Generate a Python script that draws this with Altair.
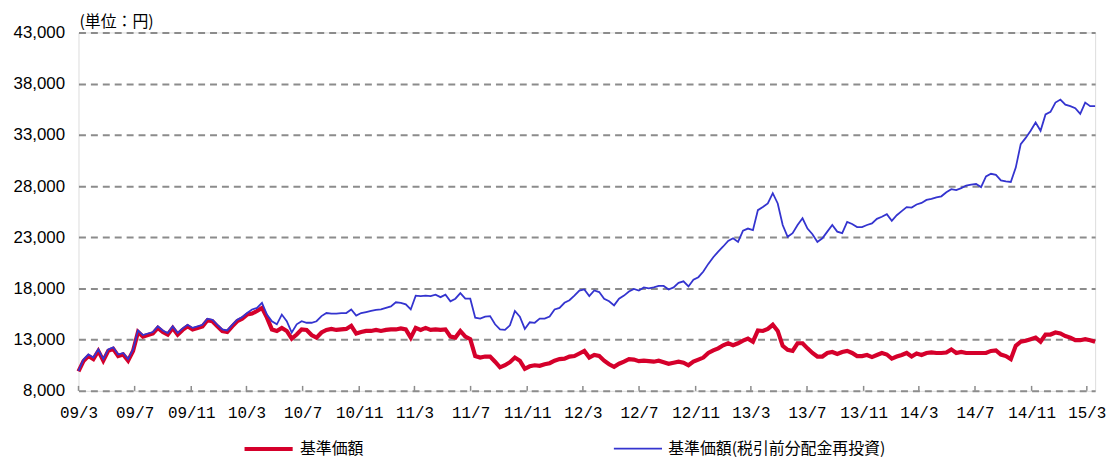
import altair as alt
import pandas as pd

# ---- data ----
START = "2009-03-01"
END = "2015-03-19"

UNIT_LABEL = "(単位：円)"
SERIES = ["基準価額", "基準価額(税引前分配金再投資)"]
COLORS = ["#D5002B", "#3434CF"]
WIDTHS = [4.2, 1.8]

RED = [
    9900, 10900, 11400, 11100, 11900, 10950, 11900, 12100, 11400, 11550,
    10950, 11900, 13750, 13300, 13450, 13600, 14150, 13750, 13500, 14150,
    13500, 13950, 14300, 14000, 14150, 14300, 14900, 14800, 14300, 13850,
    13750, 14300, 14800, 15050, 15450,
    15550, 15800, 16100, 15150, 14000, 13850, 14150, 13850, 13100, 13500,
    14000, 13950, 13450, 13200, 13700, 13950,
    14050, 13950, 14000, 14050, 14350, 13600, 13750, 13850, 13850, 13950,
    13850, 13950, 14000, 14000, 14100, 14000, 13200, 14150, 13950, 14150,
    13950, 14000, 13950, 14000, 13300, 13200, 13850, 13300, 13050, 11400,
    11250, 11350, 11350, 10850, 10300, 10500, 10800, 11250, 10950, 10150,
    10400, 10500, 10450, 10600, 10700, 10950, 11100, 11150, 11350, 11400,
    11650, 11900,
    11250, 11500, 11400, 10950, 10600, 10350, 10650, 10850, 11100, 11050,
    10900, 10950, 10900, 10850, 10950, 10800, 10650, 10750, 10850, 10750,
    10500, 10850, 11050, 11250, 11700, 11950, 12150, 12450, 12650, 12450,
    12650, 12900, 13100, 12800, 13900, 13850, 14050, 14450, 13850,
    12400, 12000, 11900, 12650, 12650, 12150, 11700, 11350, 11350, 11700,
    11800, 11600, 11800, 11900, 11700, 11400, 11400, 11500, 11300, 11500,
    11700, 11550, 11150, 11350, 11500, 11700, 11350, 11650, 11500, 11700,
    11750, 11700, 11700, 11750, 12050, 11700, 11800, 11700, 11700, 11700,
    11700, 11700, 11900, 11950, 11550, 11400, 11100, 12400, 12800, 12900,
    13050, 13200, 12800, 13500, 13500, 13700, 13600, 13350, 13200, 12950,
    12950, 13050, 12950, 12800,
]

BLUE = [
    9950, 11050, 11550, 11250, 12050, 11100, 12050, 12250, 11550, 11700,
    11100, 12050, 13900, 13450, 13600, 13750, 14300, 13900, 13650, 14300,
    13650, 14100, 14450, 14150, 14300, 14450, 15050, 14950, 14450, 14000,
    13900, 14450, 14950, 15200, 15600,
    15950, 16100, 16600, 15450, 14800, 14500, 15450, 14800, 13700, 14500,
    14800, 14650, 14650, 14800, 15300, 15600,
    15550, 15550, 15600, 15600, 15950, 15350, 15600, 15700, 15800, 15900,
    15950, 16100, 16250, 16650, 16600, 16450, 15950, 17300, 17250, 17300,
    17250, 17400, 17150, 17400, 16750, 17000, 17550, 17000, 17000, 15150,
    15050, 15250, 15300, 14500, 14000, 13950, 14400, 15800, 15250, 14050,
    14700, 14650, 15050, 15050, 15250, 15950, 16100, 16600, 16850, 17300,
    17800, 17900,
    17250, 17800, 17650, 17000, 16750, 16350, 17000, 17300, 17700, 17950,
    17800, 18100, 18000, 18100, 18250, 18250, 17900, 18100, 18550, 18700,
    18200, 18850, 19100, 19650, 20400, 21050, 21600, 22100, 22650, 22900,
    22550, 23650, 23850, 23700, 25650, 25950, 26300, 27300, 26300,
    24200, 23050, 23400, 24200, 24850, 23850, 23300, 22550, 22900, 23550,
    24200, 23550, 23400, 24500, 24300, 24000, 24000, 24200, 24350, 24800,
    25000, 25250, 24600, 25150, 25550, 25950, 25900, 26200, 26350, 26650,
    26750, 26900, 27000, 27400, 27700, 27600, 27800, 28050, 28150, 28200,
    27900, 28950, 29200, 29100, 28550, 28450, 28400, 29800, 32100, 32700,
    33400, 34200, 33400, 35000, 35250, 36150, 36450, 35950, 35800, 35600,
    35050, 36150, 35800, 35800,
]

X_TICKS = [
    (2009, 3), (2009, 7), (2009, 11), (2010, 3), (2010, 7), (2010, 11),
    (2011, 3), (2011, 7), (2011, 11), (2012, 3), (2012, 7), (2012, 11),
    (2013, 3), (2013, 7), (2013, 11), (2014, 3), (2014, 7), (2014, 11),
    (2015, 3),
]
Y_TICKS = [8000, 13000, 18000, 23000, 28000, 33000, 38000, 43000]

# ---- build tables ----
dates = pd.date_range(START, END, periods=len(RED))
df = pd.concat([
    pd.DataFrame({"date": dates, "value": RED, "series": SERIES[0]}),
    pd.DataFrame({"date": dates, "value": BLUE, "series": SERIES[1]}),
], ignore_index=True)
ticks_df = pd.DataFrame({"tick": [pd.Timestamp(y, m, 1) for y, m in X_TICKS]})
unit_df = pd.DataFrame({"t": [UNIT_LABEL]})

GRAY = "#8c8c8c"
W, H = 1024, 361

x_axis = alt.Axis(
    values=[alt.DateTime(year=y, month=m, date=1) for y, m in X_TICKS],
    format="%y/%-m", title=None, ticks=False, domain=False, grid=False,
    labelFont="Liberation Mono", labelFontSize=16, labelColor="black",
    labelPadding=14, labelOverlap=False, labelFlush=False,
)
x_scale = alt.Scale(domain=[alt.DateTime(year=2009, month=3, date=1),
                            alt.DateTime(year=2015, month=3, date=19)])

legend = alt.Legend(
    orient="none", legendX=165, legendY=393, direction="horizontal",
    title=None, labelFont="Noto Sans CJK JP", labelFontSize=16,
    labelColor="black", symbolType="stroke", symbolSize=2350,
    columnPadding=247, labelOffset=5, padding=0, labelLimit=400,
)
color = alt.Color("series:N", scale=alt.Scale(domain=SERIES, range=COLORS),
                  legend=legend)
swidth = alt.StrokeWidth("series:N",
                         scale=alt.Scale(type="ordinal", domain=SERIES, range=WIDTHS),
                         legend=legend)

y_enc = alt.Y("value:Q",
              scale=alt.Scale(domain=[8000, 43000], nice=False, zero=False),
              axis=alt.Axis(values=Y_TICKS, format=",d", title=None,
                            ticks=False, tickSize=0, domain=False,
                            grid=True, gridDash=[7, 5], gridColor=GRAY,
                            gridWidth=2, labelFont="Liberation Sans",
                            labelFontSize=17, labelColor="black",
                            labelPadding=14))

base = alt.Chart(df).encode(
    x=alt.X("date:T", scale=x_scale, axis=x_axis),
    y=y_enc, color=color, strokeWidth=swidth,
)
red_line = base.transform_filter(alt.datum.series == SERIES[0]).mark_line()
blue_line = base.transform_filter(alt.datum.series == SERIES[1]).mark_line()

tick_marks = alt.Chart(ticks_df).mark_rule(color=GRAY, strokeWidth=1.5).encode(
    x=alt.X("tick:T", scale=x_scale, axis=x_axis),
    y=alt.value(H - 5), y2=alt.value(H),
)

unit_text = alt.Chart(unit_df).mark_text(
    align="left", baseline="middle", font="Noto Sans CJK JP",
    fontSize=16, color="black",
).encode(text="t:N", x=alt.value(1), y=alt.value(-11))

chart = alt.layer(tick_marks, red_line, blue_line, unit_text).properties(
    width=W, height=H,
    autosize=alt.AutoSizeParams(type="none"),
    padding={"left": 71, "top": 23, "right": 16, "bottom": 68},
).configure_view(stroke=GRAY, strokeWidth=2).configure(background="white")

chart.save("out.html", embed_options={"renderer": "svg", "actions": False})
